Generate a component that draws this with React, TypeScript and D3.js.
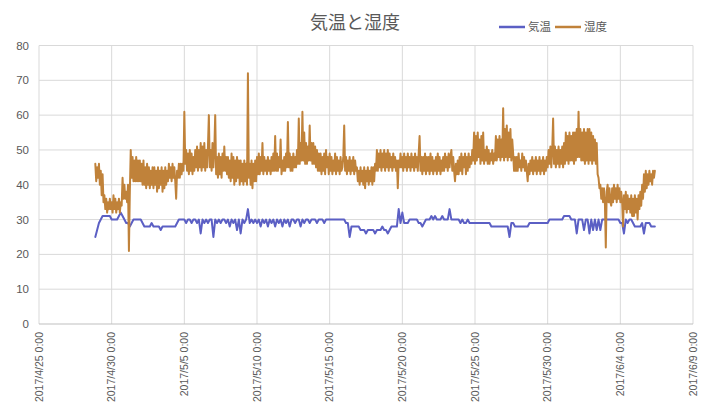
import * as d3 from 'd3';

const TITLE = '気温と湿度';
const SERIES_NAMES = ['気温', '湿度'];
const COLORS = ['#5b5fc4', '#c0823a'];

// both loggers start 2017/4/28 21:00
const START = new Date(2017, 3, 28, 21);
const HUM_STEP_MIN = 90;
const TEMP_STEP_MIN = 180;

// humidity (%), one reading every 90 minutes
const HUMIDITY = [
  46, 41, 45, 42, 46, 40, 44, 37, 43, 35, 37, 33, 36, 32, 35, 33,
  36, 33, 35, 32, 37, 33, 36, 32, 35, 33, 36, 32, 35, 34, 42, 36,
  40, 36, 38, 35, 40, 21, 38, 50, 42, 48, 41, 47, 41, 48, 41, 47,
  41, 47, 41, 46, 40, 47, 40, 45, 39, 46, 40, 45, 39, 44, 40, 45,
  39, 45, 40, 44, 38, 45, 39, 44, 40, 45, 38, 44, 39, 45, 40, 44,
  41, 46, 42, 45, 41, 46, 42, 45, 41, 36, 44, 42, 46, 42, 46, 43,
  46, 44, 61, 46, 50, 44, 49, 43, 50, 44, 49, 43, 48, 44, 50, 45,
  51, 44, 50, 45, 52, 44, 51, 45, 52, 44, 50, 45, 51, 60, 45, 50,
  44, 52, 45, 50, 60, 43, 48, 42, 49, 43, 48, 42, 49, 44, 51, 44,
  48, 43, 48, 42, 47, 41, 49, 42, 48, 40, 47, 41, 48, 42, 47, 40,
  47, 41, 46, 40, 47, 41, 46, 40, 72, 42, 46, 40, 47, 39, 46, 41,
  47, 41, 48, 43, 49, 43, 48, 44, 52, 43, 48, 44, 47, 43, 48, 44,
  47, 43, 48, 44, 49, 44, 54, 44, 49, 44, 48, 45, 53, 43, 47, 44,
  48, 44, 49, 45, 58, 45, 49, 44, 48, 44, 49, 45, 48, 45, 50, 46,
  59, 46, 52, 47, 61, 47, 55, 46, 52, 46, 51, 47, 57, 47, 52, 46,
  52, 46, 51, 45, 50, 44, 49, 44, 49, 43, 48, 44, 49, 43, 50, 45,
  48, 43, 49, 44, 48, 43, 47, 44, 49, 43, 48, 44, 47, 43, 48, 44,
  45, 48, 57, 44, 48, 43, 47, 44, 48, 43, 47, 44, 48, 43, 47, 44,
  45, 41, 44, 40, 45, 41, 44, 40, 45, 39, 44, 41, 45, 40, 44, 41,
  45, 40, 45, 41, 46, 44, 50, 44, 49, 45, 50, 44, 49, 45, 50, 44,
  49, 45, 50, 44, 49, 45, 48, 44, 49, 45, 48, 44, 47, 39, 47, 45,
  49, 45, 48, 44, 49, 45, 48, 44, 49, 45, 48, 44, 49, 45, 48, 44,
  49, 45, 48, 44, 49, 54, 44, 48, 43, 48, 44, 49, 43, 48, 44, 48,
  43, 49, 44, 48, 43, 47, 44, 48, 43, 49, 44, 48, 43, 47, 44, 48,
  44, 49, 45, 48, 44, 49, 45, 48, 50, 44, 48, 44, 41, 46, 43, 47,
  43, 48, 44, 49, 43, 48, 45, 49, 43, 48, 44, 49, 45, 48, 46, 50,
  47, 55, 46, 54, 47, 55, 48, 53, 46, 54, 47, 55, 46, 50, 47, 51,
  46, 50, 46, 49, 47, 50, 46, 49, 47, 54, 47, 53, 48, 54, 47, 53,
  48, 62, 47, 56, 48, 57, 47, 55, 48, 56, 47, 53, 49, 44, 48, 44,
  48, 44, 49, 45, 47, 44, 49, 45, 48, 44, 47, 44, 41, 46, 43, 47,
  44, 48, 43, 47, 44, 48, 43, 47, 44, 48, 43, 47, 44, 48, 43, 47,
  44, 48, 45, 50, 46, 51, 45, 50, 59, 46, 51, 45, 50, 46, 51, 45,
  50, 46, 51, 45, 52, 46, 55, 47, 54, 46, 55, 47, 54, 47, 55, 46,
  55, 47, 56, 48, 61, 48, 56, 47, 55, 47, 56, 46, 55, 47, 56, 46,
  56, 47, 55, 46, 54, 47, 53, 46, 52, 43, 42, 39, 40, 36, 39, 35,
  39, 35, 22, 38, 40, 35, 39, 35, 34, 39, 35, 40, 36, 39, 35, 40,
  36, 39, 35, 38, 35, 28, 37, 33, 38, 32, 37, 33, 36, 32, 37, 31,
  36, 31, 37, 32, 36, 30, 37, 33, 38, 34, 40, 36, 43, 38, 44, 39,
  43, 40, 44, 41, 43, 40, 44, 42, 44,
];

// temperature (°C), one reading every 3 hours
const TEMPERATURE = [
  25, 27, 29, 30, 31, 31, 31, 31,
  31, 30, 30, 30, 30, 31, 32, 31,
  30, 29, 29, 28, 29, 30, 30, 30,
  30, 30, 29, 28, 28, 28, 28, 29,
  28, 28, 28, 28, 27, 28, 28, 28,
  28, 28, 28, 28, 28, 29, 30, 30,
  30, 30, 29, 30, 30, 29, 30, 30,
  29, 30, 26, 30, 29, 30, 29, 30,
  30, 25, 30, 29, 30, 29, 30, 30,
  29, 30, 28, 30, 29, 30, 27, 30,
  26, 30, 29, 30, 33, 29, 30, 29,
  30, 29, 30, 28, 30, 29, 30, 28,
  30, 29, 30, 28, 30, 29, 30, 28,
  30, 29, 30, 28, 30, 30, 29, 30,
  30, 28, 30, 29, 30, 30, 29, 30,
  30, 30, 29, 30, 30, 30, 29, 30,
  30, 30, 30, 30, 30, 30, 30, 30,
  30, 30, 29, 29, 25, 28, 28, 28,
  28, 28, 27, 27, 27, 26, 27, 27,
  27, 27, 26, 27, 27, 27, 28, 27,
  27, 26, 27, 28, 28, 28, 28, 33,
  29, 32, 29, 29, 29, 30, 30, 30,
  30, 30, 29, 29, 28, 29, 30, 30,
  30, 31, 30, 31, 30, 30, 30, 31,
  30, 30, 30, 33, 30, 30, 30, 30,
  30, 29, 30, 29, 29, 30, 29, 29,
  29, 29, 29, 29, 29, 29, 29, 29,
  29, 29, 28, 28, 28, 28, 28, 28,
  28, 28, 28, 28, 25, 29, 29, 28,
  28, 28, 28, 28, 28, 28, 28, 29,
  29, 29, 29, 29, 29, 29, 29, 29,
  29, 29, 30, 30, 30, 30, 30, 30,
  30, 30, 31, 31, 31, 31, 30, 30,
  30, 26, 30, 30, 30, 27, 30, 30,
  26, 30, 27, 30, 27, 30, 27, 30,
  30, 30, 30, 30, 30, 30, 30, 30,
  30, 29, 29, 26, 30, 29, 30, 30,
  29, 28, 28, 28, 28, 29, 26, 29,
  29, 29, 28, 28, 28,
];

const Y_TICKS = [0, 10, 20, 30, 40, 50, 60, 70, 80];
const X_TICK_LABELS = [
  '2017/4/25 0:00', '2017/4/30 0:00', '2017/5/5 0:00', '2017/5/10 0:00',
  '2017/5/15 0:00', '2017/5/20 0:00', '2017/5/25 0:00', '2017/5/30 0:00',
  '2017/6/4 0:00', '2017/6/9 0:00',
];

const W = 725;
const H = 414;
const margin = { top: 45.5, right: 32, bottom: 90, left: 39 };
const NUM_FONT = "'Liberation Sans', Arial, sans-serif";
const JP_FONT = "'Noto Sans CJK JP', sans-serif";
const TEXT = '#595959';

export default function App() {
  const parse = d3.timeParse('%Y/%m/%d %H:%M');
  const xTicks = X_TICK_LABELS.map(s => parse(s) as Date);

  const x = d3.scaleTime()
    .domain([xTicks[0], xTicks[xTicks.length - 1]])
    .range([margin.left, W - margin.right]);
  const y = d3.scaleLinear().domain([0, 80]).range([H - margin.bottom, margin.top]);

  const seriesLine = (stepMin: number) => d3.line<number>()
    .x((_, i) => x(d3.timeMinute.offset(START, i * stepMin)))
    .y(d => y(d));

  const [x0, x1] = x.range();
  const [yb, yt] = y.range();

  return (
    <div style={{ position: 'absolute', left: 0, top: 0 }}>
      <svg width={W} height={H} style={{ display: 'block', background: '#fff' }}>
        <text x={355} y={29} textAnchor="middle" fontSize={18} fill={TEXT} fontFamily={JP_FONT}>
          {TITLE}
        </text>

        {/* legend */}
        {SERIES_NAMES.map((name, i) => (
          <g key={name} transform={`translate(${499 + i * 56},27)`}>
            <line x1={0} x2={26} y1={0} y2={0} stroke={COLORS[i]} strokeWidth={2.5} />
            <text x={29} y={4} fontSize={11.5} fill={TEXT} fontFamily={JP_FONT}>{name}</text>
          </g>
        ))}

        {/* gridlines */}
        {Y_TICKS.slice(1).map(t => (
          <line key={'gy' + t} x1={x0} x2={x1} y1={y(t)} y2={y(t)} stroke="#d9d9d9" strokeWidth={1} />
        ))}
        {xTicks.slice(1).map((t, i) => (
          <line key={'gx' + i} x1={x(t)} x2={x(t)} y1={yt} y2={yb} stroke="#d9d9d9" strokeWidth={1} />
        ))}
        <line x1={x0} x2={x0} y1={yt} y2={yb} stroke="#d9d9d9" strokeWidth={1} />
        <line x1={x0} x2={x1} y1={yb} y2={yb} stroke="#bfbfbf" strokeWidth={1} />

        {/* y labels */}
        {Y_TICKS.map(t => (
          <text key={'ly' + t} x={x0 - 10} y={y(t) + 4} textAnchor="end" fontSize={11.5}
            fill={TEXT} fontFamily={NUM_FONT}>{t}</text>
        ))}

        {/* x labels */}
        {xTicks.map((t, i) => (
          <text key={'lx' + i} transform={`translate(${x(t) + 3.5},${yb + 8}) rotate(-90)`}
            textAnchor="end" fontSize={10.5} fill={TEXT} fontFamily={NUM_FONT}>
            {X_TICK_LABELS[i]}
          </text>
        ))}

        <path d={seriesLine(TEMP_STEP_MIN)(TEMPERATURE) ?? ''} fill="none" stroke={COLORS[0]}
          strokeWidth={2} strokeLinejoin="round" strokeLinecap="round" />
        <path d={seriesLine(HUM_STEP_MIN)(HUMIDITY) ?? ''} fill="none" stroke={COLORS[1]}
          strokeWidth={2} strokeLinejoin="round" strokeLinecap="round" />
      </svg>
    </div>
  );
}
